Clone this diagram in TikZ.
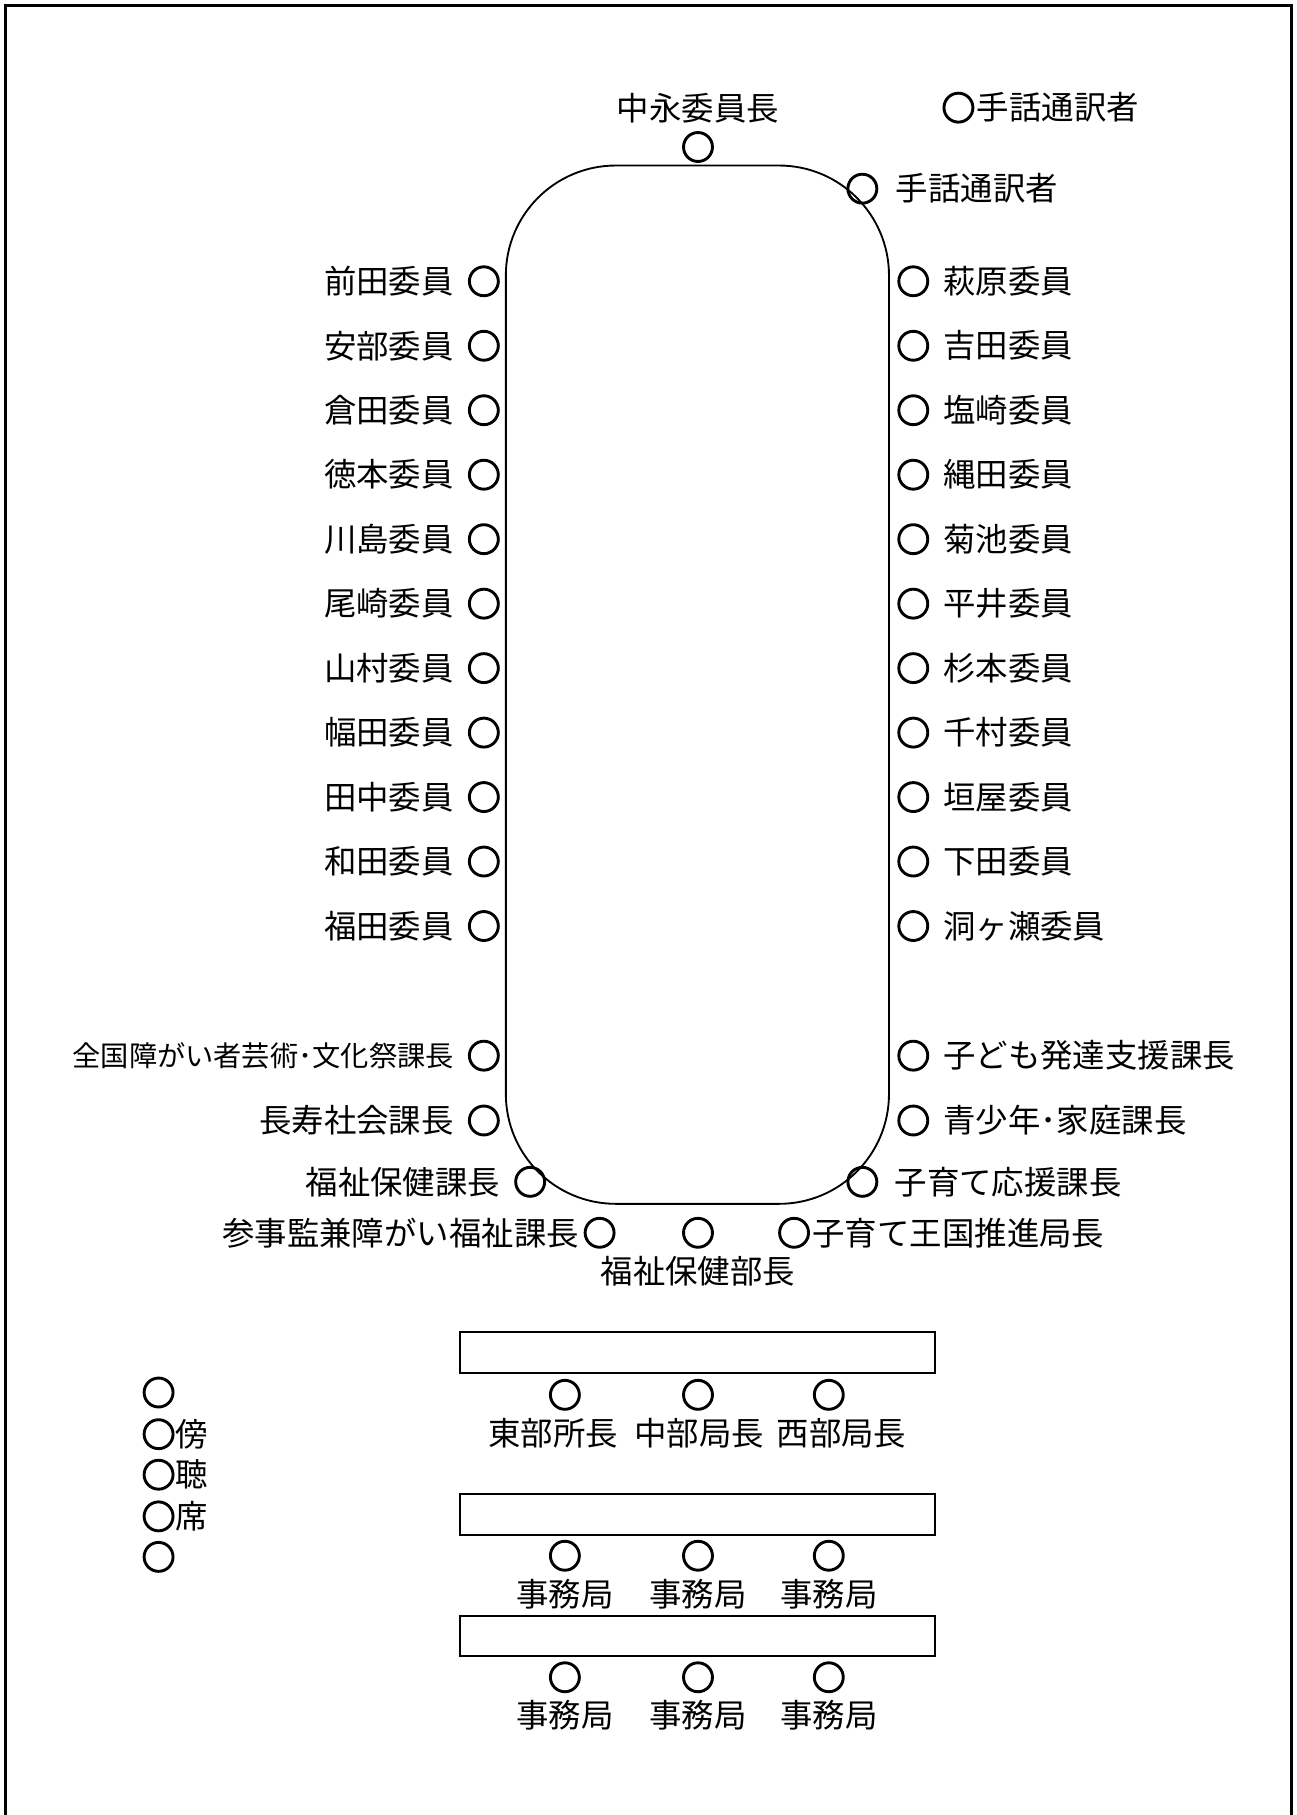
\documentclass[tikz,border=0pt]{standalone}
\usepackage{fontspec}
\setmainfont{Noto Sans CJK JP}
\usetikzlibrary{positioning}

\tikzset{
  seat/.style={circle, draw, line width=2.5pt, minimum size=25pt, inner sep=0pt},
  who/.style={font=\fontsize{28}{30}\selectfont, inner sep=0pt},
  desk/.style={draw, line width=1.8pt},
}

\begin{document}
\begin{tikzpicture}[x=1pt, y=-1pt]
    \useasboundingbox (0,0) rectangle (1120,1568);
    % frame (bottom edge runs off the page)
    \draw[line width=2.4pt] (5,1568) -- (5,5) -- (1116,5) -- (1116,1568);

    % conference table
    \draw[line width=1.6pt, rounded corners=95pt] (437,143) rectangle (768,1040);

    % chair and interpreters
    \node[seat] (chair) at (603,127) {};
    \node[who, above=7pt of chair] (chairlbl) {中永委員長};
    \node[seat] (interp1) at (828,93) {};
    \node[who, right=2pt of interp1] (interp1lbl) {手話通訳者};
    \node[seat] (interp2) at (745,163) {};
    \node[who, right=15pt of interp2] (interp2lbl) {手話通訳者};

    % members, left side
    \foreach \who [count=\i] in {前田委員,安部委員,倉田委員,徳本委員,川島委員,尾崎委員,
                                 山村委員,幅田委員,田中委員,和田委員,福田委員} {
        \pgfmathsetmacro{\y}{243+55.7*(\i-1)}
        \node[seat] (L\i) at (418,\y) {};
        \node[who, left=12pt of L\i] {\who};
    }

    % members, right side
    \foreach \who [count=\i] in {萩原委員,吉田委員,塩崎委員,縄田委員,菊池委員,平井委員,
                                 杉本委員,千村委員,垣屋委員,下田委員,洞ヶ瀬委員} {
        \pgfmathsetmacro{\y}{243+55.7*(\i-1)}
        \node[seat] (R\i) at (789,\y) {};
        \node[who, right=12pt of R\i] {\who};
    }

    % staff around the lower end
    \node[seat] (art) at (418,912) {};
    \node[who, font=\fontsize{24.4}{26}\selectfont, left=12pt of art] {全国障がい者芸術･文化祭課長};
    \node[seat] (aged) at (418,968) {};
    \node[who, left=12pt of aged] {長寿社会課長};
    \node[seat] (welf) at (458,1021) {};
    \node[who, left=12pt of welf] {福祉保健課長};
    \node[seat] (disab) at (518,1065) {};
    \node[who, left=4pt of disab] {参事監兼障がい福祉課長};
    \node[seat] (head) at (603,1065) {};
    \node[who, below=6pt of head] {福祉保健部長};
    \node[seat] (kingdom) at (686,1065) {};
    \node[who, right=2pt of kingdom] {子育て王国推進局長};
    \node[seat] (child) at (789,912) {};
    \node[who, right=12pt of child] {子ども発達支援課長};
    \node[seat] (youth) at (789,968) {};
    \node[who, right=12pt of youth] {青少年･家庭課長};
    \node[seat] (care) at (745,1021) {};
    \node[who, right=14pt of care] {子育て応援課長};

    % back rows
    \draw[desk] (397,1151) rectangle (808,1186);
    \draw[desk] (397,1291) rectangle (808,1326);
    \draw[desk] (397,1396) rectangle (808,1431);
    \foreach \x/\lx/\who [count=\i] in {488/478/東部所長, 603/604/中部局長, 716/727/西部局長} {
        \node[seat] (A\i) at (\x,1205) {};
        \node[who] (A\i lbl) at (\lx,1238) {\who};
    }
    \foreach \y [count=\r] in {1344,1449} {
        \foreach \x [count=\i] in {488,603,716} {
            \node[seat] (S\r\i) at (\x,\y) {};
            \node[who, below=6pt of S\r\i] {事務局};
        }
    }

    % public gallery
    \foreach \y/\who [count=\i] in {1203/{}, 1239/傍, 1274/聴, 1310/席, 1345/{}} {
        \node[seat] (G\i) at (137,\y) {};
        \node[who, right=1pt of G\i] {\who};
    }
\end{tikzpicture}
\end{document}
